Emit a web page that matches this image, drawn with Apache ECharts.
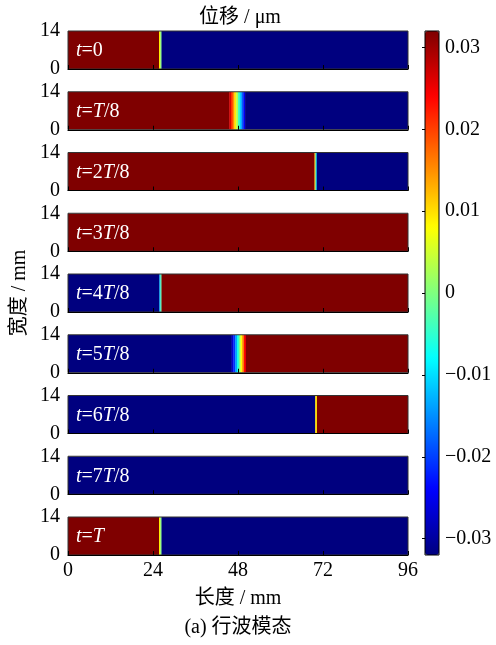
<!DOCTYPE html>
<html>
<head>
<meta charset="utf-8">
<script src="https://cdn.jsdelivr.net/npm/echarts@6/dist/echarts.min.js"></script>
<style>
  html, body { margin: 0; padding: 0; background: #fff; }
  #chart { width: 496px; height: 645px; }
</style>
</head>
<body>
<div id="chart"></div>
<script>
// 每一行: [起点 mm, 终点 mm, 位移 μm]
const seg0 = [[0, 25.7, 0.032], [25.7, 26.05, 0.009], [26.05, 26.4, 0.0], [26.4, 96, -0.032]];
const seg1 = [[0, 45.5, 0.032], [45.5, 46, 0.027], [46, 46.5, 0.021], [46.5, 47, 0.015], [47, 47.5, 0.009],
              [47.5, 48, 0.003], [48, 48.5, -0.004], [48.5, 49, -0.011], [49, 49.5, -0.018], [49.5, 50, -0.025], [50, 96, -0.032]];
const seg2 = [[0, 69.6, 0.032], [69.6, 69.9, 0.012], [69.9, 70.2, -0.008], [70.2, 96, -0.032]];
const seg3 = [[0, 96, 0.032]];
const seg4 = [[0, 25.8, -0.032], [25.8, 26.1, -0.012], [26.1, 26.4, -0.002], [26.4, 96, 0.032]];
const seg5 = [[0, 46.2, -0.032], [46.2, 46.7, -0.027], [46.7, 47.2, -0.021], [47.2, 47.7, -0.014], [47.7, 48.2, -0.007],
              [48.2, 48.7, 0.0], [48.7, 49.2, 0.008], [49.2, 49.7, 0.016], [49.7, 50.2, 0.024], [50.2, 96, 0.032]];
const seg6 = [[0, 69.8, -0.032], [69.8, 70.3, 0.01], [70.3, 96, 0.032]];
const seg7 = [[0, 96, -0.032]];
const seg8 = [[0, 25.7, 0.032], [25.7, 26.05, 0.009], [26.05, 26.4, 0.0], [26.4, 96, -0.032]];
const panels = [seg0, seg1, seg2, seg3, seg4, seg5, seg6, seg7, seg8];

const panelLabels = ['{i|t}=0', '{i|t}={i|T}/8', '{i|t}=2{i|T}/8', '{i|t}=3{i|T}/8', '{i|t}=4{i|T}/8',
                     '{i|t}=5{i|T}/8', '{i|t}=6{i|T}/8', '{i|t}=7{i|T}/8', '{i|t}={i|T}'];
const colorTicks = [-0.03, -0.02, -0.01, 0, 0.01, 0.02, 0.03];
const jet = ['#00007f', '#0000ff', '#007fff', '#00ffff', '#7fff7f', '#ffff00', '#ff7f00', '#ff0000', '#7f0000'];

const serif = '"Liberation Serif", "Times New Roman", "Noto Sans CJK SC", serif';
const chart = echarts.init(document.getElementById('chart'));

let grids = [], xAxes = [], yAxes = [], series = [], graphics = [];
const top0 = 31, pitch = 60.75, h = 38;

panels.forEach(function (seg, i) {
    let last = i === panels.length - 1;
    let top = top0 + i * pitch;
    grids.push({ left: 68, width: 340, top: top, height: h, show: true, borderColor: '#333', borderWidth: 1, z: 5 });
    xAxes.push({
        gridIndex: i, type: 'value', min: 0, max: 96, interval: 24,
        axisLine: { show: true, lineStyle: { color: '#000', width: 1.2 } },
        axisTick: { show: true, inside: true, length: 4, lineStyle: { color: '#000' } },
        axisLabel: { show: last, color: '#000', fontFamily: serif, fontSize: 20, margin: 6 },
        splitLine: { show: false },
        z: 6
    });
    yAxes.push({
        gridIndex: i, type: 'value', min: 0, max: 14, interval: 14,
        axisLine: { show: false },
        axisTick: { show: false },
        axisLabel: { color: '#000', fontFamily: serif, fontSize: 20, margin: 8 },
        splitLine: { show: false }
    });
    series.push({
        type: 'custom', xAxisIndex: i, yAxisIndex: i,
        data: seg,
        encode: { x: [0, 1] },
        clip: true,
        renderItem: function (params, api) {
            let p0 = api.coord([api.value(0), 14]);
            let p1 = api.coord([api.value(1), 0]);
            return {
                type: 'rect',
                shape: { x: p0[0], y: p0[1], width: p1[0] - p0[0] + 0.3, height: p1[1] - p0[1] },
                style: { fill: api.visual('color') }
            };
        }
    });
    graphics.push({
        type: 'text', x: 76, y: top + h / 2 + 1, z: 10,
        style: {
            text: panelLabels[i], fill: '#fff', font: '20px ' + serif, verticalAlign: 'middle',
            rich: { i: { fontStyle: 'italic', fontSize: 20, fontFamily: serif, fill: '#fff' } }
        }
    });
});

// 色标的坐标轴
const cb = panels.length;
grids.push({ left: 425, width: 14, top: 31, height: 524, show: true, borderColor: '#000', borderWidth: 1, backgroundColor: 'transparent', z: 5 });
xAxes.push({ gridIndex: cb, type: 'value', show: false });
yAxes.push({
    gridIndex: cb, type: 'value', min: -0.032, max: 0.032, position: 'right', z: 6,
    axisLine: { show: false },
    axisTick: { show: true, inside: true, length: 3, customValues: colorTicks, lineStyle: { color: '#000' } },
    axisLabel: {
        customValues: colorTicks, color: '#000', fontFamily: serif, fontSize: 20, margin: 6,
        formatter: function (v) { return v < 0 ? '\u2212' + Math.abs(v).toFixed(2) : (v === 0 ? '0' : v.toFixed(2)); }
    },
    splitLine: { show: false }
});

graphics.push(
    { type: 'text', x: 240, y: 18, style: { text: '位移 / μm', font: '20px ' + serif, fill: '#000', align: 'center', verticalAlign: 'middle' } },
    { type: 'text', x: 238, y: 599, style: { text: '长度 / mm', font: '20px ' + serif, fill: '#000', align: 'center', verticalAlign: 'middle' } },
    { type: 'text', x: 238, y: 628, style: { text: '(a) 行波模态', font: '20px ' + serif, fill: '#000', align: 'center', verticalAlign: 'middle' } },
    { type: 'text', x: 20, y: 293, rotation: Math.PI / 2, style: { text: '宽度 / mm', font: '20px ' + serif, fill: '#000', align: 'center', verticalAlign: 'middle' } }
);

chart.setOption({
    animation: false,
    grid: grids,
    xAxis: xAxes,
    yAxis: yAxes,
    visualMap: {
        type: 'continuous', min: -0.032, max: 0.032, dimension: 2,
        seriesIndex: panels.map(function (d, i) { return i; }),
        inRange: { color: jet },
        calculable: false, realtime: false,
        left: 425, top: 31, itemWidth: 14, itemHeight: 524, padding: 0,
        text: ['', ''], showLabel: false, hoverLink: false
    },
    series: series,
    graphic: graphics
});
</script>
</body>
</html>
